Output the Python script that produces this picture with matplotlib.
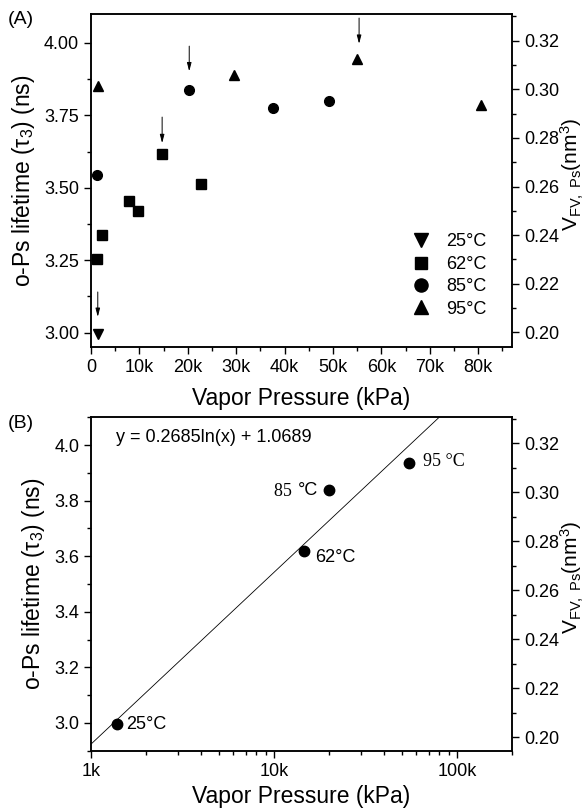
import numpy as np
import matplotlib
matplotlib.use("Agg")
import matplotlib.pyplot as plt
from matplotlib.ticker import MultipleLocator, FuncFormatter, LogLocator, NullFormatter

plt.rcParams['font.family'] = ['Liberation Sans', 'DejaVu Sans']
plt.rcParams['mathtext.fontset'] = 'custom'
plt.rcParams['mathtext.rm'] = 'Liberation Sans'
plt.rcParams['mathtext.it'] = 'Liberation Sans:italic'

# panel A data: vapor pressure (kPa) vs o-Ps lifetime (ns)
press_25 = [1.4e3]
tau_25 = [2.995]
press_62 = [1.24e3, 2.25e3, 7.84e3, 9.79e3, 14.7e3, 22.8e3]
tau_62 = [3.255, 3.336, 3.455, 3.42, 3.616, 3.513]
press_85 = [1.24e3, 20.3e3, 37.7e3, 49.2e3]
tau_85 = [3.543, 3.838, 3.777, 3.80]
press_95 = [1.4e3, 29.6e3, 55.0e3, 80.5e3]
tau_95 = [3.853, 3.891, 3.943, 3.787]

# arrows marking the chosen points: x, start y, end y
arrow_x = [1.4e3, 14.7e3, 20.3e3, 55.4e3]
arrow_y0 = [3.140, 3.744, 3.989, 4.086]
arrow_y1 = [3.054, 3.654, 3.902, 3.997]

# panel B data
fit_press = [1.395e3, 14.56e3, 20.1e3, 55.0e3]
fit_tau = [2.996, 3.617, 3.838, 3.937]
fit_labels = ['25°C', '62°C', '85 °C', '95 °C']
fit_slope = 0.2685
fit_icept = 1.0689

LABEL_FS = 16.5
TICK_FS = 13
VLABEL = 'V$_{\\rm FV,\\ Ps}$(nm$^3$)'


def style_axis(ax):
    for sp in ax.spines.values():
        sp.set_linewidth(1.1)
    ax.tick_params(which='both', direction='out', labelsize=TICK_FS, width=1.0)
    ax.tick_params(which='major', length=5)
    ax.tick_params(which='minor', length=3)


def right_label(ax):
    ax.set_ylabel(VLABEL, fontsize=15)
    ax.yaxis.set_label_coords(1.159, 0.52)
    ax.yaxis.label.set_verticalalignment('baseline')


def kfmt(v, pos):
    if v == 0:
        return '0'
    return '%dk' % int(round(v / 1000))


fig = plt.figure(figsize=(5.87, 8.10), dpi=100)

# ---------------- (A) ----------------
axa = fig.add_axes([91 / 587, 1 - 347 / 810, 421 / 587, 333 / 810])
axa.plot(press_25, tau_25, 'v', color='black', ms=7.5, label='25°C')
axa.plot(press_62, tau_62, 's', color='black', ms=6.5, label='62°C')
axa.plot(press_85, tau_85, 'o', color='black', ms=7, label='85°C')
axa.plot(press_95, tau_95, '^', color='black', ms=7.5, label='95°C')
for x, y0, y1 in zip(arrow_x, arrow_y0, arrow_y1):
    axa.annotate('', xy=(x, y1), xytext=(x, y0),
                 arrowprops=dict(arrowstyle='-|>,head_length=0.5,head_width=0.13',
                                 color='black', lw=0.7, shrinkA=0, shrinkB=0))
axa.set_xlim(0, 87000)
axa.set_ylim(2.95, 4.1)
axa.xaxis.set_major_locator(MultipleLocator(10000))
axa.xaxis.set_minor_locator(MultipleLocator(5000))
axa.xaxis.set_major_formatter(FuncFormatter(kfmt))
axa.yaxis.set_major_locator(MultipleLocator(0.25))
axa.yaxis.set_minor_locator(MultipleLocator(0.125))
axa.yaxis.set_major_formatter(FuncFormatter(lambda v, p: '%.2f' % v))
style_axis(axa)
axa.set_xlabel('Vapor Pressure (kPa)', fontsize=LABEL_FS, labelpad=8)
axa.set_ylabel('o-Ps lifetime (τ$_3$) (ns)', fontsize=LABEL_FS, labelpad=5)
axa.legend(loc='lower right', bbox_to_anchor=(0.97, 0.05), frameon=False,
           fontsize=TICK_FS, markerscale=1.35, handlelength=1.0,
           handletextpad=0.9, labelspacing=0.3, borderpad=0.2)

axa2 = axa.twinx()
axa2.set_ylim(0.194, 0.331)
axa2.yaxis.set_major_locator(MultipleLocator(0.02))
axa2.yaxis.set_minor_locator(MultipleLocator(0.01))
axa2.yaxis.set_major_formatter(FuncFormatter(lambda v, p: '%.2f' % v))
style_axis(axa2)
right_label(axa2)

fig.text(8 / 587, 1 - 20 / 810, '(A)', fontsize=14, va='center', ha='left')

# ---------------- (B) ----------------
axb = fig.add_axes([91 / 587, 1 - 750.7 / 810, 421 / 587, 333.4 / 810])
axb.set_xscale('log')
line_x = np.array([1e3, 2e5])
axb.plot(line_x, fit_slope * np.log(line_x) + fit_icept, color='black', lw=0.6)
axb.plot(fit_press, fit_tau, 'o', color='black', ms=7.5)

axb.annotate(fit_labels[0], (fit_press[0], fit_tau[0]), xytext=(6, 0),
             textcoords='offset points', va='center', ha='left', fontsize=TICK_FS)
axb.annotate(fit_labels[1], (fit_press[1], fit_tau[1]), xytext=(8, -4),
             textcoords='offset points', va='center', ha='left', fontsize=TICK_FS)
axb.annotate('°C', (fit_press[2], fit_tau[2]), xytext=(-8, 0),
             textcoords='offset points', va='center', ha='right', fontsize=TICK_FS)
axb.annotate('85 ', (fit_press[2], fit_tau[2]), xytext=(-24, -1),
             textcoords='offset points', va='center', ha='right', fontsize=TICK_FS,
             family='Liberation Serif')
axb.annotate(fit_labels[3], (fit_press[3], fit_tau[3]), xytext=(10, 1),
             textcoords='offset points', va='center', ha='left', fontsize=TICK_FS,
             family='Liberation Serif')

axb.text(0.06, 0.94, 'y = %.4fln(x) + %.4f' % (fit_slope, fit_icept),
         transform=axb.transAxes, fontsize=TICK_FS, va='center', ha='left')

axb.set_xlim(1e3, 2e5)
axb.set_ylim(2.9, 4.1)
axb.xaxis.set_major_locator(LogLocator(base=10, numticks=10))
axb.xaxis.set_minor_locator(LogLocator(base=10, subs=np.arange(2, 10), numticks=20))
axb.xaxis.set_major_formatter(FuncFormatter(kfmt))
axb.xaxis.set_minor_formatter(NullFormatter())
axb.yaxis.set_major_locator(MultipleLocator(0.2))
axb.yaxis.set_minor_locator(MultipleLocator(0.1))
axb.yaxis.set_major_formatter(FuncFormatter(lambda v, p: '%.1f' % v))
style_axis(axb)
axb.set_xlabel('Vapor Pressure (kPa)', fontsize=LABEL_FS, labelpad=4)
axb.set_ylabel('o-Ps lifetime (τ$_3$) (ns)', fontsize=LABEL_FS, labelpad=5)

axb2 = axb.twinx()
axb2.set_ylim(0.1945, 0.3306)
axb2.yaxis.set_major_locator(MultipleLocator(0.02))
axb2.yaxis.set_minor_locator(MultipleLocator(0.01))
axb2.yaxis.set_major_formatter(FuncFormatter(lambda v, p: '%.2f' % v))
style_axis(axb2)
right_label(axb2)

fig.text(8 / 587, 1 - 424 / 810, '(B)', fontsize=14, va='center', ha='left')

fig.savefig('out.png', dpi=100)
